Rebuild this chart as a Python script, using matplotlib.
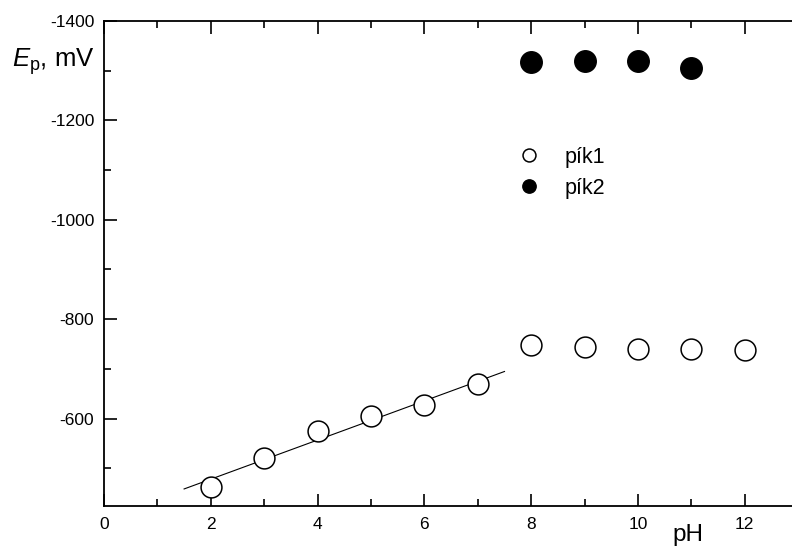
import numpy as np
import matplotlib.pyplot as plt
from matplotlib.ticker import MultipleLocator

plt.rcParams["font.family"] = ["Liberation Sans", "DejaVu Sans"]
plt.rcParams["axes.unicode_minus"] = False
plt.rcParams["mathtext.fontset"] = "custom"
plt.rcParams["mathtext.rm"] = "Liberation Sans"
plt.rcParams["mathtext.it"] = "Liberation Sans:italic"

# -----------------------------
# Data
# -----------------------------
ph1 = [2, 3, 4, 5, 6, 7, 8, 9, 10, 11, 12]
ep1 = [-463, -521, -574, -605, -627, -669, -747, -744, -740, -740, -737]

ph2 = [8, 9, 10, 11]
ep2 = [-1317, -1319, -1319, -1305]

# linear fit over the first six points of pík1
fit_ph = ph1[:6]
fit_range = [1.5, 7.5]

# -----------------------------
# Figure
# -----------------------------
fig = plt.figure(figsize=(7.92, 5.46), dpi=100)
ax = fig.add_axes([104 / 792, 40 / 546, 12.9 * 53.4 / 792, 485 / 546])

k, b = np.polyfit(fit_ph, ep1[:6], 1)
xf = np.array(fit_range)
ax.plot(xf, k * xf + b, color="black", lw=0.8)

ax.plot(ph1, ep1, "o", ms=15, mfc="white", mec="black", mew=1.1,
        ls="none", label="pík1")
ax.plot(ph2, ep2, "o", ms=15.5, mfc="black", mec="black",
        ls="none", label="pík2")

ax.set_xlim(0, 12.9)
ax.set_ylim(-424, -1400)

ax.xaxis.set_major_locator(MultipleLocator(2))
ax.xaxis.set_minor_locator(MultipleLocator(1))
ax.yaxis.set_major_locator(MultipleLocator(200))
ax.yaxis.set_minor_locator(MultipleLocator(100))

ax.tick_params(which="both", direction="in", top=True, right=False,
               width=1.2, labelsize=12.5)
ax.tick_params(which="major", length=9)
ax.tick_params(which="minor", length=5)
ax.tick_params(axis="x", pad=8)
ax.tick_params(axis="y", pad=7)

for s in ["left", "bottom", "top"]:
    ax.spines[s].set_linewidth(1.3)
ax.spines["right"].set_visible(False)

leg = ax.legend(loc="upper left", bbox_to_anchor=(518 / 792, 1 - 147 / 546),
                bbox_transform=fig.transFigure, frameon=False, fontsize=15.5,
                handlelength=1, handletextpad=1.17, borderpad=0,
                borderaxespad=0, labelspacing=0.45, markerscale=0.62)

fig.text(12 / 792, 1 - 67 / 546, r"$E_{\mathrm{p}}$, mV", fontsize=18.5,
         va="baseline", ha="left")
fig.text(688 / 792, 1 - 541 / 546, "pH", fontsize=17.5, va="baseline",
         ha="center")

fig.savefig("out.png", dpi=100)
